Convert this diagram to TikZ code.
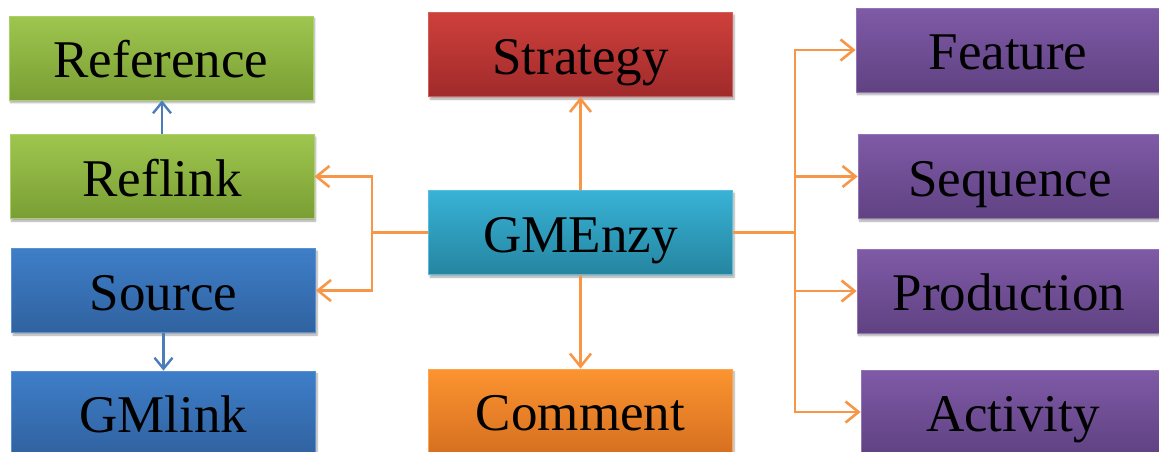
\documentclass[tikz,border=0pt]{standalone}
\usepackage{fontspec}
\setmainfont{Liberation Serif}
\usetikzlibrary{arrows.meta,shadows.blur}

% box fill colours (top and bottom of each gradient)
\definecolor{greenT}{RGB}{158,198,78}
\definecolor{greenB}{RGB}{122,158,52}
\definecolor{redT}{RGB}{206,64,60}
\definecolor{redB}{RGB}{160,42,42}
\definecolor{cyanT}{RGB}{56,178,214}
\definecolor{cyanB}{RGB}{37,133,160}
\definecolor{blueT}{RGB}{62,126,200}
\definecolor{blueB}{RGB}{48,98,160}
\definecolor{orangeT}{RGB}{252,148,48}
\definecolor{orangeB}{RGB}{214,112,32}
\definecolor{purpleT}{RGB}{127,90,167}
\definecolor{purpleB}{RGB}{96,66,130}
% connector colours
\definecolor{linkorange}{RGB}{247,150,70}
\definecolor{linkblue}{RGB}{74,126,187}

\tikzset{
  entity/.style={rectangle, inner sep=0pt, minimum width=304pt, minimum height=84pt,
    text height=44pt, text depth=5pt, font=\fontsize{53}{53}\selectfont,
    line width=0.8pt,
    blur shadow={shadow xshift=1.5pt, shadow yshift=-2.5pt, shadow blur steps=6, shadow opacity=35}},
  greenbox/.style={entity, top color=greenT, bottom color=greenB, draw=greenT!85!white},
  redbox/.style={entity, top color=redT, bottom color=redB, draw=redT!85!white},
  cyanbox/.style={entity, top color=cyanT, bottom color=cyanB, draw=cyanT!85!white},
  bluebox/.style={entity, top color=blueT, bottom color=blueB, draw=blueT!85!white},
  orangebox/.style={entity, top color=orangeT, bottom color=orangeB, draw=orangeT!85!white},
  purplebox/.style={entity, top color=purpleT, bottom color=purpleB, draw=purpleT!85!white},
  orangelink/.style={draw=linkorange, line width=2.6pt,
    -{Straight Barb[length=13pt,width=21pt,line width=2.6pt]}},
  orangeline/.style={draw=linkorange, line width=2.6pt},
  bluelink/.style={draw=linkblue, line width=2.4pt,
    -{Straight Barb[length=11pt,width=18pt,line width=2.4pt]}},
}

\begin{document}
\begin{tikzpicture}[x=1pt,y=-1pt]
  \useasboundingbox (0,0) rectangle (1159,451);

  % left column
  \node[greenbox] (reference) at (161,58)    {Reference};
  \node[greenbox] (reflink)   at (162,176.5) {Reflink};
  \node[bluebox]  (source)    at (163.5,290.5) {Source};
  \node[bluebox]  (gmlink)    at (163.5,413) {GMlink};

  % centre column
  \node[redbox]    (strategy) at (580.5,54.5)  {Strategy};
  \node[cyanbox]   (gmenzy)   at (580.5,232.5) {GMEnzy};
  \node[orangebox] (comment)  at (580.5,411)   {Comment};

  % right column
  \node[purplebox] (feature)    at (1008,50)    {Feature};
  \node[purplebox] (sequence)   at (1010,176.5) {Sequence};
  \node[purplebox] (production) at (1009,291)   {Production};
  \node[purplebox] (activity)   at (1013,412)   {Activity};

  % junction points of the elbow connectors
  \coordinate (lj) at (372,232.5);
  \coordinate (rj) at (795,232.5);

  % blue links in the left column
  \draw[bluelink] (reflink.north) -- (reflink.north |- reference.south);
  \draw[bluelink] (source.south) -- (source.south |- gmlink.north);

  % vertical links from the centre
  \draw[orangelink] (gmenzy.north) -- (strategy.south);
  \draw[orangelink] (gmenzy.south) -- (comment.north);

  % left fork
  \draw[orangeline] (gmenzy.west) -- (lj);
  \draw[orangelink] (lj) |- (reflink.east);
  \draw[orangelink] (lj) |- (source.east);

  % right fork
  \draw[orangeline] (gmenzy.east) -- (rj);
  \draw[orangelink] (rj) |- (feature.west);
  \draw[orangelink] (rj) |- (sequence.west);
  \draw[orangelink] (rj) |- (production.west);
  \draw[orangelink] (rj) |- (activity.west);
\end{tikzpicture}
\end{document}
